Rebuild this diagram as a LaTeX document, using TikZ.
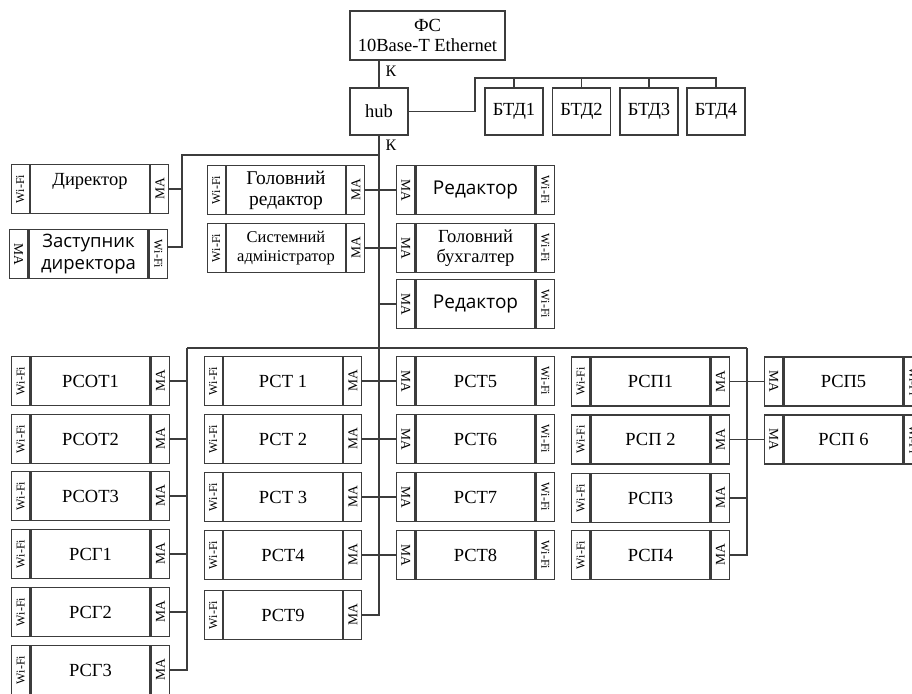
\documentclass[tikz,border=0pt]{standalone}
\usepackage{fontspec}
\setmainfont{Liberation Serif}
\newfontfamily\sansf{Open Sans}
\usepackage{graphicx}
\usepackage{tikz}
\usetikzlibrary{positioning, calc}
\definecolor{linegray}{RGB}{60, 60, 60}

\begin{document}
\begin{tikzpicture}[
  x=1pt, y=-1pt,
  line width=1.3pt, draw=linegray,
  font=\fontsize{18.5}{20}\selectfont,
  body/.style={draw=linegray, minimum width=119, minimum height=49, inner sep=0pt, align=center},
  side/.style={draw=linegray, minimum width=18, minimum height=49, inner sep=0pt},
  topbox/.style={draw=linegray, inner sep=0pt, align=center},
  klab/.style={inner sep=0pt, font=\fontsize{16}{16}\selectfont},
  plaintxt/.style={},
  bigtxt/.style={font=\fontsize{19.5}{21}\selectfont},
  admtxt/.style={font=\fontsize{16.5}{19}\selectfont},
  sanstxt/.style={font=\sansf\fontsize{19}{20}\selectfont},
  sansbig/.style={font=\sansf\fontsize{18.5}{22}\selectfont}
]
  \useasboundingbox (0,0) rectangle (912,693);
  \clip (0,0) rectangle (912,693);

  % server, hub and terminals
  \node[topbox, minimum width=155, minimum height=49] (fs) at (427.5,35.5) {ФС\\10Base-T Ethernet};
  \node[topbox, minimum width=58, minimum height=47] (hub) at (379,111.5) {hub};
  \foreach \i/\cx in {1/514, 2/581.5, 3/649, 4/716}
    \node[topbox, minimum width=58, minimum height=47] (btd\i) at (\cx,111.5) {БТД\i};
  \node[klab] (k1) at (391,71) {К};
  \node[klab] (k2) at (391,145) {К};

  % stations: Wi-Fi left, MA right
  \foreach \nm/\cx/\cy/\st/\txt in {
      dir/90/189/plaintxt/{Директор\\\mbox{}},
      gred/286/190/bigtxt/{Головний\\редактор},
      sadm/286/248/admtxt/{Системний\\адміністратор},
      rsot1/90.5/381/plaintxt/РСОТ1, rsot2/90.5/439/plaintxt/РСОТ2,
      rsot3/90.5/496/plaintxt/РСОТ3, rsg1/90.5/554/plaintxt/РСГ1,
      rsg2/90.5/612/plaintxt/РСГ2, rsg3/90.5/670/plaintxt/РСГ3,
      rst1/283/381/plaintxt/{РСТ 1}, rst2/283/439/plaintxt/{РСТ 2},
      rst3/283/497/plaintxt/{РСТ 3}, rst4/283/555/plaintxt/РСТ4,
      rst9/283/615/plaintxt/РСТ9,
      rsp1/650.5/381.5/plaintxt/РСП1, rsp2/650.5/439.5/plaintxt/{РСП 2},
      rsp3/650.5/498/plaintxt/РСП3, rsp4/650.5/555/plaintxt/РСП4}{
    \node[body, \st] (\nm) at (\cx,\cy) {\txt};
    \node[side, anchor=east] (\nm-wf) at (\nm.west) {\rotatebox{90}{\fontsize{12}{12}\selectfont Wi-Fi}};
    \node[side, anchor=west] (\nm-ma) at (\nm.east) {\rotatebox{90}{\fontsize{13.5}{14}\selectfont MA}};
  }

  % stations: MA left, Wi-Fi right
  \foreach \nm/\cx/\cy/\st/\txt in {
      zast/88.5/254/sansbig/{Заступник\\директора},
      red1/475.5/190/sanstxt/Редактор,
      gbuh/475.5/248/plaintxt/{Головний\\бухгалтер},
      red2/475.5/304/sanstxt/Редактор,
      rst5/475.5/381/plaintxt/РСТ5, rst6/475.5/439/plaintxt/РСТ6,
      rst7/475.5/497/plaintxt/РСТ7, rst8/475.5/555/plaintxt/РСТ8,
      rsp5/843.5/381.5/plaintxt/РСП5, rsp6/843.5/439.5/plaintxt/{РСП 6}}{
    \node[body, \st] (\nm) at (\cx,\cy) {\txt};
    \node[side, anchor=east] (\nm-ma) at (\nm.west) {\rotatebox{-90}{\fontsize{13.5}{14}\selectfont MA}};
    \node[side, anchor=west] (\nm-wf) at (\nm.east) {\rotatebox{-90}{\fontsize{12}{12}\selectfont Wi-Fi}};
  }

  % backbone
  \coordinate (bt) at (475,78);
  \coordinate (jd) at (379,155);
  \coordinate (dl) at (182,155);
  \coordinate (bl) at (187,348);
  \coordinate (br) at (747,348);
  \draw (fs.south -| hub) -- (hub.north);
  \draw (hub.east) -| (bt) -| (btd4.north);
  \foreach \i in {1,2,3}
    \draw (btd\i.north) -- (btd\i.north |- bt);
  \draw (hub.south) -- (hub.south |- rst9-ma.east) -- (rst9-ma.east);

  % management branch
  \draw (jd) -- (dl) |- ([yshift=7pt]zast-wf.east);
  \draw (dir-ma.east) -- (dir-ma.east -| dl);
  \draw (gred-ma.east) -- (red1-ma.west);
  \fill[linegray] (gred-ma.east -| hub) circle (1.8);
  \draw (sadm-ma.east) -- (gbuh-ma.west);
  \draw (red2-ma.west) -- (red2-ma.west -| hub);

  % work stations bus
  \draw (bl) -- (br);
  \draw (bl) |- (rsg3-ma.east);
  \foreach \s in {rsot1, rsot2, rsot3, rsg1, rsg2}
    \draw (\s-ma.east) -- (\s-ma.east -| bl);
  \draw (br) |- (rsp4-ma.east);
  \draw (rsp3-ma.east) -- (rsp3-ma.east -| br);
  \foreach \p/\q in {rst1/rst5, rst2/rst6, rst3/rst7, rst4/rst8, rsp1/rsp5, rsp2/rsp6}
    \draw (\p-ma.east) -- (\q-ma.west);
\end{tikzpicture}
\end{document}
